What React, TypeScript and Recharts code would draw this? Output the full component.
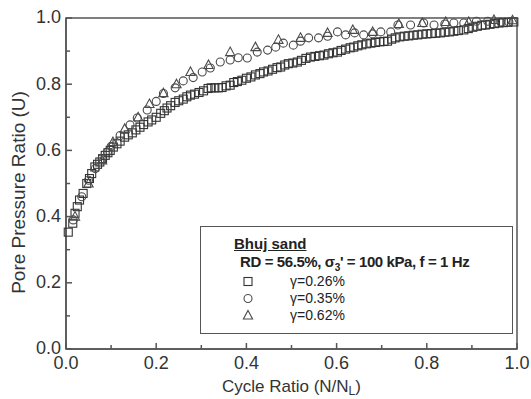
import React from 'react';
import {
  ScatterChart,
  Scatter,
  XAxis,
  YAxis,
  ReferenceArea,
  Legend,
} from 'recharts';

// Pore pressure ratio U against cycle ratio N/NL, Bhuj sand
const gamma026: [number, number][] = [
  [0.005, 0.353], [0.015, 0.38], [0.02, 0.41], [0.025, 0.43], [0.03, 0.45],
  [0.038, 0.47], [0.046, 0.5], [0.052, 0.515], [0.057, 0.53], [0.064, 0.55],
  [0.07, 0.558], [0.075, 0.565], [0.081, 0.575], [0.087, 0.585], [0.093, 0.593],
  [0.098, 0.6], [0.105, 0.61], [0.113, 0.62], [0.12, 0.628], [0.13, 0.64],
  [0.138, 0.647], [0.147, 0.653], [0.155, 0.662], [0.164, 0.67], [0.172, 0.678],
  [0.182, 0.686], [0.19, 0.692], [0.2, 0.7], [0.21, 0.712], [0.218, 0.72],
  [0.224, 0.728], [0.232, 0.735], [0.242, 0.745], [0.25, 0.75], [0.26, 0.755],
  [0.268, 0.762], [0.276, 0.767], [0.285, 0.77], [0.295, 0.775], [0.305, 0.78],
  [0.315, 0.787], [0.322, 0.789], [0.33, 0.789], [0.338, 0.789], [0.346, 0.79],
  [0.355, 0.795], [0.364, 0.797], [0.372, 0.805], [0.38, 0.808], [0.39, 0.812],
  [0.4, 0.818], [0.41, 0.822], [0.42, 0.828], [0.43, 0.832], [0.438, 0.837],
  [0.448, 0.84], [0.458, 0.845], [0.468, 0.85], [0.476, 0.852], [0.485, 0.858],
  [0.493, 0.862], [0.503, 0.864], [0.513, 0.867], [0.522, 0.872], [0.532, 0.878],
  [0.542, 0.882], [0.552, 0.884], [0.562, 0.886], [0.572, 0.888], [0.582, 0.892],
  [0.592, 0.895], [0.602, 0.897], [0.61, 0.902], [0.62, 0.906], [0.63, 0.91],
  [0.638, 0.912], [0.647, 0.916], [0.656, 0.919], [0.666, 0.922], [0.676, 0.924],
  [0.686, 0.926], [0.696, 0.928], [0.705, 0.929], [0.713, 0.93], [0.722, 0.936],
  [0.73, 0.94], [0.74, 0.943], [0.75, 0.945], [0.76, 0.946], [0.77, 0.948],
  [0.78, 0.949], [0.79, 0.951], [0.8, 0.952], [0.81, 0.953], [0.82, 0.954],
  [0.83, 0.955], [0.84, 0.957], [0.85, 0.958], [0.86, 0.96], [0.87, 0.962],
  [0.882, 0.964], [0.892, 0.968], [0.902, 0.972], [0.912, 0.975], [0.922, 0.978],
  [0.93, 0.979], [0.94, 0.981], [0.95, 0.983], [0.96, 0.985], [0.97, 0.986],
  [0.98, 0.987], [0.993, 0.988],
];

const gamma035: [number, number][] = [
  [0.016, 0.39], [0.035, 0.46], [0.05, 0.51], [0.065, 0.545], [0.08, 0.575],
  [0.092, 0.595], [0.1, 0.612], [0.12, 0.645], [0.142, 0.677], [0.158, 0.698],
  [0.18, 0.722], [0.2, 0.748], [0.216, 0.772], [0.242, 0.789], [0.26, 0.81],
  [0.282, 0.82], [0.302, 0.837], [0.32, 0.849], [0.342, 0.867], [0.364, 0.873],
  [0.382, 0.88], [0.402, 0.879], [0.424, 0.897], [0.447, 0.903], [0.465, 0.912],
  [0.482, 0.924], [0.504, 0.918], [0.52, 0.93], [0.538, 0.94], [0.56, 0.94],
  [0.58, 0.945], [0.602, 0.958], [0.62, 0.949], [0.64, 0.955], [0.66, 0.949],
  [0.68, 0.952], [0.698, 0.958], [0.72, 0.958], [0.736, 0.979], [0.764, 0.979],
  [0.793, 0.985], [0.816, 0.979], [0.84, 0.982], [0.86, 0.985], [0.882, 0.985],
  [0.91, 0.99], [0.935, 0.99], [0.964, 0.988], [0.982, 0.988],
];

const gamma062: [number, number][] = [
  [0.02, 0.4], [0.05, 0.5], [0.08, 0.57], [0.104, 0.625], [0.13, 0.665],
  [0.16, 0.7], [0.185, 0.74], [0.216, 0.773], [0.245, 0.8], [0.276, 0.837],
  [0.316, 0.858], [0.364, 0.897], [0.42, 0.912], [0.471, 0.934], [0.52, 0.94],
  [0.58, 0.955], [0.636, 0.964], [0.68, 0.958], [0.738, 0.982], [0.79, 0.985],
  [0.842, 0.988], [0.893, 0.988], [0.949, 0.994], [0.99, 0.993],
];

const axisTicks = [0, 0.1, 0.2, 0.3, 0.4, 0.5, 0.6, 0.7, 0.8, 0.9, 1.0];
const legendLabels = ['γ=0.26%', 'γ=0.35%', 'γ=0.62%'];

const FONT = '"Liberation Sans", Arial, Helvetica, sans-serif';
const AXIS = '#555';
const INK = '#333';

const toPoints = (rows: [number, number][]) => rows.map(([x, u]) => ({ x, u }));

type Marker = 'square' | 'circle' | 'triangle';

function markerPath(kind: Marker, cx: number, cy: number, color: string) {
  if (kind === 'square') {
    return <rect x={cx - 4} y={cy - 4} width={8} height={8} fill="none" stroke={color} strokeWidth={1.1} />;
  }
  if (kind === 'circle') {
    return <circle cx={cx} cy={cy} r={4} fill="none" stroke={color} strokeWidth={1.1} />;
  }
  return (
    <polygon
      points={`${cx},${cy - 5} ${cx + 4.6},${cy + 3.5} ${cx - 4.6},${cy + 3.5}`}
      fill="none"
      stroke={color}
      strokeWidth={1.1}
    />
  );
}

const shapeFor = (kind: Marker, color: string) => (props: any) =>
  markerPath(kind, props.cx, props.cy, color);

const isMajor = (v: number) => Math.round(v * 10) % 2 === 0;

function XTick(props: any) {
  const { x, y, payload } = props;
  const v = payload.value;
  const major = isMajor(v);
  return (
    <g>
      <line x1={x} y1={y} x2={x} y2={y - (major ? 6 : 4)} stroke={AXIS} strokeWidth={1.5} />
      {major && (
        <text x={x} y={y + 20} textAnchor="middle" fontSize={18} fill={INK} fontFamily={FONT}>
          {v.toFixed(1)}
        </text>
      )}
    </g>
  );
}

function YTick(props: any) {
  const { x, y, payload } = props;
  const v = payload.value;
  const major = isMajor(v);
  return (
    <g>
      <line x1={x} y1={y} x2={x + (major ? 6 : 4)} y2={y} stroke={AXIS} strokeWidth={1.5} />
      {major && (
        <text x={x - 5} y={y} dy="0.3em" textAnchor="end" fontSize={18} fill={INK} fontFamily={FONT}>
          {v.toFixed(1)}
        </text>
      )}
    </g>
  );
}

function XTitle(props: any) {
  const { viewBox } = props;
  const cx = viewBox.x + viewBox.width / 2;
  return (
    <text x={cx} y={viewBox.y + 43} textAnchor="middle" fontSize={17} fill={INK} fontFamily={FONT}>
      <tspan>Cycle Ratio (N/N</tspan>
      <tspan fontSize={12} dy={3}>L</tspan>
      <tspan dy={-3}>)</tspan>
    </text>
  );
}

function YTitle(props: any) {
  const { viewBox } = props;
  const cy = viewBox.y + viewBox.height / 2 + 9;
  return (
    <text
      x={25}
      y={cy}
      transform={`rotate(-90, 25, ${cy})`}
      textAnchor="middle"
      fontSize={19}
      fill={INK}
      fontFamily={FONT}
    >
      Pore Pressure Ratio (U)
    </text>
  );
}

const series: { name: string; kind: Marker; color: string; rows: [number, number][] }[] = [
  { name: legendLabels[0], kind: 'square', color: '#333', rows: gamma026 },
  { name: legendLabels[1], kind: 'circle', color: '#4a4a4a', rows: gamma035 },
  { name: legendLabels[2], kind: 'triangle', color: '#4a4a4a', rows: gamma062 },
];

function LegendBox() {
  return (
    <div
      style={{
        position: 'relative',
        width: 313,
        height: 108,
        boxSizing: 'border-box',
        border: `1.5px solid ${AXIS}`,
        background: '#fff',
        fontFamily: FONT,
        color: '#222',
      }}
    >
      <div
        style={{
          position: 'absolute',
          left: 33,
          top: 8,
          fontSize: 15,
          fontWeight: 'bold',
          textDecoration: 'underline',
          lineHeight: '17px',
        }}
      >
        Bhuj sand
      </div>
      <div
        style={{
          position: 'absolute',
          left: 39,
          top: 26,
          fontSize: 15,
          fontWeight: 'bold',
          lineHeight: '17px',
          letterSpacing: -0.4,
          whiteSpace: 'nowrap',
        }}
      >
        RD = 56.5%, σ<sub style={{ fontSize: 10 }}>3</sub>' = 100 kPa, f = 1 Hz
      </div>
      {series.map((s, i) => (
        <div
          key={s.name}
          style={{
            position: 'absolute',
            left: 41,
            top: 46 + i * 17,
            fontSize: 14,
            lineHeight: '16px',
            display: 'flex',
            alignItems: 'center',
          }}
        >
          <svg width={12} height={12} style={{ marginRight: 36 }}>
            {markerPath(s.kind, 6, 6.5, s.color)}
          </svg>
          <span>{s.name}</span>
        </div>
      ))}
    </div>
  );
}

export default function App() {
  return (
    <div style={{ position: 'absolute', left: 0, top: 0, background: '#fff' }}>
      <ScatterChart width={531} height={399} margin={{ top: 18, right: 14, bottom: 10, left: 20 }}>
        <XAxis
          type="number"
          dataKey="x"
          domain={[0, 1]}
          ticks={axisTicks}
          interval={0}
          tickSize={0}
          tickMargin={0}
          tickLine={false}
          tick={<XTick />}
          height={40}
          stroke={AXIS}
          strokeWidth={1.5}
          label={<XTitle />}
        />
        <YAxis
          type="number"
          dataKey="u"
          domain={[0, 1]}
          ticks={axisTicks}
          interval={0}
          tickSize={0}
          tickMargin={0}
          tickLine={false}
          tick={<YTick />}
          width={46}
          stroke={AXIS}
          strokeWidth={1.5}
          label={<YTitle />}
        />
        <ReferenceArea x1={0} x2={1} y1={0} y2={1} fill="none" stroke={AXIS} strokeWidth={1.5} />
        <Legend
          layout="vertical"
          align="center"
          verticalAlign="middle"
          content={<LegendBox />}
          wrapperStyle={{ left: 200, top: 226, width: 313, height: 108 }}
        />
        {series.map((s) => (
          <Scatter
            key={s.name}
            name={s.name}
            data={toPoints(s.rows)}
            shape={shapeFor(s.kind, s.color)}
            isAnimationActive={false}
          />
        ))}
      </ScatterChart>
    </div>
  );
}
